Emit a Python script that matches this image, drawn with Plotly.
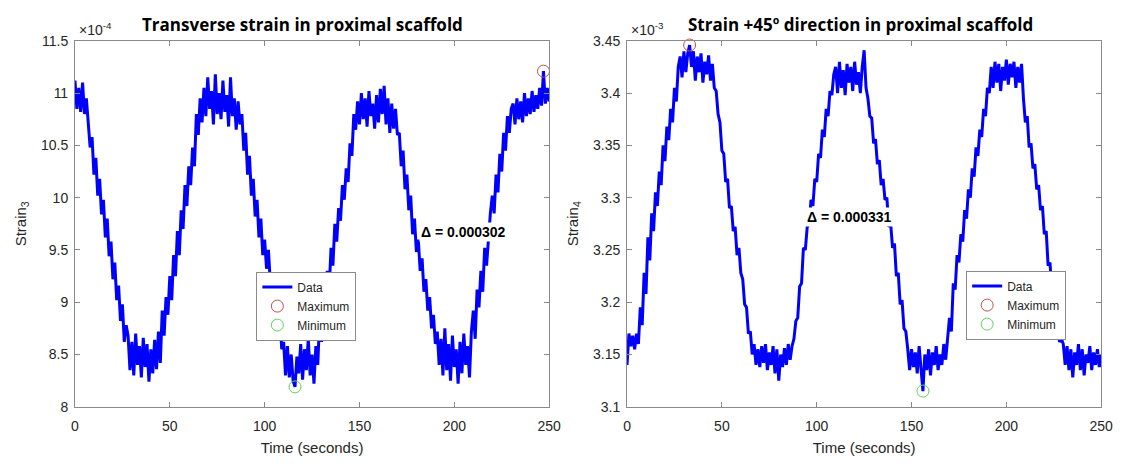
import plotly.graph_objects as go

# ---------------- data ----------------
time_s = list(range(0, 251))

# Strain_3 (values shown in units of 1e-4)
strain3_e4 = [
    11.12, 10.85, 11.05, 10.82, 11.10, 10.80, 10.95,
    10.72, 10.48, 10.58, 10.22, 10.38, 10.02, 10.18, 9.84, 9.98, 9.62, 9.80, 9.44, 9.58,
    9.22, 9.38, 9.02, 9.16, 8.82, 8.98, 8.62, 8.78,
    8.68, 8.35, 8.62, 8.30, 8.70, 8.40, 8.58, 8.28, 8.66, 8.38, 8.60, 8.24, 8.55, 8.32, 8.64,
    8.36, 8.72, 8.42,
    8.92, 8.68, 9.05, 8.88, 9.25, 9.02, 9.45, 9.25, 9.68, 9.45, 9.88, 9.70, 10.12, 9.92,
    10.30, 10.12, 10.48, 10.30, 10.80, 10.60,
    10.95, 10.72, 11.05, 10.78, 11.15, 10.85, 11.02, 10.70, 11.18, 10.80, 11.00, 10.75,
    11.12, 10.82, 10.98, 10.68, 11.15, 10.78, 10.95, 10.65, 10.92, 10.70,
    10.80, 10.45, 10.62, 10.22, 10.40, 10.02, 10.18, 9.82, 9.98, 9.62, 9.80, 9.45, 9.60,
    9.32, 9.50, 9.18, 9.28, 8.98, 9.10, 8.78, 8.90,
    8.55, 8.62, 8.30, 8.58, 8.28, 8.50, 8.25, 8.19, 8.48, 8.32, 8.60, 8.26, 8.55, 8.35,
    8.65, 8.30, 8.50, 8.22, 8.58, 8.40,
    8.85, 8.62, 9.05, 8.88, 9.30, 9.12, 9.52, 9.35, 9.75, 9.58, 9.90, 9.78, 10.12, 9.98,
    10.28, 10.15, 10.52, 10.40,
    10.80, 10.65, 10.92, 10.70, 11.00, 10.75, 10.95, 10.68, 11.02, 10.78, 10.90, 10.66,
    10.98, 10.72, 11.04, 10.80, 11.07, 10.70, 10.95, 10.62, 10.90, 10.66, 10.85, 10.60,
    10.62, 10.30, 10.45, 10.08, 10.22, 9.88, 10.02, 9.65, 9.80, 9.48, 9.60, 9.30, 9.42,
    9.10, 9.22, 8.92, 9.05, 8.75, 8.88, 8.60,
    8.72, 8.40, 8.65, 8.30, 8.75, 8.35, 8.60, 8.25, 8.68, 8.38, 8.55, 8.22, 8.62, 8.32,
    8.70, 8.40, 8.58, 8.28, 8.72,
    8.92, 8.65, 9.12, 8.95, 9.30, 9.10, 9.52, 9.35, 9.62, 9.85, 10.02, 9.85, 10.22, 10.05,
    10.42, 10.25, 10.62, 10.45, 10.78, 10.62, 10.85,
    10.90, 10.70, 10.95, 10.75, 10.92, 10.72, 11.00, 10.78, 10.95, 10.80, 11.02, 10.82,
    10.98, 10.85, 11.05, 10.88, 11.21, 10.90, 11.05, 10.92,
]

# Strain_4 (values shown in units of 1e-3)
strain4_e3 = [
    3.140, 3.170, 3.158, 3.168, 3.155, 3.170, 3.160,
    3.195, 3.178, 3.228, 3.208, 3.262, 3.240, 3.285, 3.268, 3.305, 3.292, 3.325, 3.312,
    3.350, 3.335, 3.368, 3.355, 3.385, 3.372, 3.405, 3.392, 3.425,
    3.435, 3.415, 3.440, 3.420, 3.438, 3.446, 3.425, 3.440, 3.412, 3.435, 3.420, 3.438,
    3.410, 3.430, 3.418, 3.436, 3.412, 3.428, 3.405,
    3.402, 3.380, 3.372, 3.345, 3.342, 3.315, 3.318, 3.290, 3.292, 3.268, 3.272, 3.245,
    3.252, 3.228, 3.222, 3.198, 3.195, 3.170, 3.172, 3.150,
    3.160, 3.140, 3.155, 3.138, 3.158, 3.142, 3.160, 3.135, 3.152, 3.140, 3.158, 3.132,
    3.155, 3.125, 3.150, 3.138, 3.156, 3.140, 3.160, 3.145, 3.158, 3.165,
    3.182, 3.185, 3.215, 3.218, 3.252, 3.250, 3.272, 3.275, 3.298, 3.292, 3.318, 3.315,
    3.342, 3.338, 3.365, 3.358, 3.385, 3.378, 3.402, 3.398, 3.418,
    3.425, 3.400, 3.430, 3.405, 3.422, 3.398, 3.428, 3.410, 3.425, 3.402, 3.430, 3.408,
    3.420, 3.400, 3.425, 3.441, 3.405,
    3.395, 3.378, 3.376, 3.352, 3.356, 3.332, 3.336, 3.312, 3.318, 3.298, 3.300, 3.272,
    3.275, 3.252, 3.256, 3.225, 3.228, 3.198, 3.202, 3.175, 3.172,
    3.155, 3.135, 3.155, 3.138, 3.152, 3.132, 3.158, 3.140, 3.115, 3.150, 3.135, 3.155,
    3.130, 3.152, 3.140, 3.158, 3.135, 3.150, 3.140, 3.160, 3.145, 3.165,
    3.185, 3.172, 3.218, 3.212, 3.245, 3.238, 3.265, 3.258, 3.288, 3.280, 3.308, 3.300,
    3.328, 3.320, 3.348, 3.340, 3.365, 3.358, 3.385, 3.378, 3.405, 3.400,
    3.425, 3.405, 3.430, 3.410, 3.428, 3.402, 3.425, 3.412, 3.432, 3.408, 3.428, 3.415,
    3.430, 3.405, 3.425, 3.410, 3.428,
    3.395, 3.372, 3.378, 3.348, 3.352, 3.328, 3.332, 3.308, 3.312, 3.288, 3.292, 3.265,
    3.268, 3.235, 3.238, 3.208, 3.212, 3.185, 3.188, 3.162, 3.165,
    3.160, 3.140, 3.158, 3.135, 3.155, 3.128, 3.152, 3.140, 3.160, 3.135, 3.155, 3.130,
    3.150, 3.142, 3.158, 3.135, 3.152, 3.140, 3.155, 3.138, 3.150,
]

x_ticks = [0, 50, 100, 150, 200, 250]
y3_ticks = [8, 8.5, 9, 9.5, 10, 10.5, 11, 11.5]
y3_labels = ["8", "8.5", "9", "9.5", "10", "10.5", "11", "11.5"]
y4_ticks = [3.1, 3.15, 3.2, 3.25, 3.3, 3.35, 3.4, 3.45]
y4_labels = ["3.1", "3.15", "3.2", "3.25", "3.3", "3.35", "3.4", "3.45"]

titles = ["Transverse strain in proximal scaffold", "Strain +45\u00ba direction in proximal scaffold"]
scale3 = 1e-4
scale4 = 1e-3

# ---------------- figure ----------------
W, H = 1128, 464
def px(x):
    return x / W
def py(y):
    return 1 - y / H

BLUE = "#0000ff"
RED = "#c8504f"
GREEN = "#5fd35f"
AX = "#8a8a8a"
TXT = "#262626"
ARIAL = "Liberation Sans, Arial, sans-serif"
TICKFONT = dict(family=ARIAL, size=14, color=TXT)
LABELFONT = dict(family=ARIAL, size=15, color=TXT)

fig = go.Figure()

def add_panel(xs, ys, xa, ya, legend):
    i_max = max(range(len(ys)), key=lambda i: ys[i])
    i_min = min(range(len(ys)), key=lambda i: ys[i])
    fig.add_trace(go.Scatter(x=xs, y=ys, mode="lines", name="Data",
                             line=dict(color=BLUE, width=3), xaxis=xa, yaxis=ya,
                             legend=legend))
    fig.add_trace(go.Scatter(x=[xs[i_max]], y=[ys[i_max]], mode="markers", name="Maximum",
                             marker=dict(symbol="circle-open", size=12, color=RED,
                                         line=dict(width=1, color=RED)),
                             xaxis=xa, yaxis=ya, legend=legend, cliponaxis=False))
    fig.add_trace(go.Scatter(x=[xs[i_min]], y=[ys[i_min]], mode="markers", name="Minimum",
                             marker=dict(symbol="circle-open", size=12, color=GREEN,
                                         line=dict(width=1, color=GREEN)),
                             xaxis=xa, yaxis=ya, legend=legend, cliponaxis=False))
    return ys[i_max] - ys[i_min]

d3 = add_panel(time_s, strain3_e4, "x", "y", "legend")
d4 = add_panel(time_s, strain4_e3, "x2", "y2", "legend2")

ydom = [py(413), py(34)]
axis_common = dict(showline=True, linecolor=AX, linewidth=1, mirror="ticks",
                   ticks="inside", ticklen=5, tickcolor=AX, showgrid=False,
                   zeroline=False, tickfont=TICKFONT)

leg_common = dict(xanchor="left", yanchor="top", bgcolor="white",
                  bordercolor=AX, borderwidth=1,
                  font=dict(family=ARIAL, size=12, color=TXT),
                  tracegroupgap=0, itemwidth=30)

fig.update_layout(
    width=W, height=H, margin=dict(l=0, r=0, t=0, b=0),
    paper_bgcolor="white", plot_bgcolor="white",
    xaxis=dict(domain=[px(72), px(553)], range=[0, 250], tickvals=x_ticks, anchor="y",
               ticklabelstandoff=6,
               title=dict(text="Time (seconds)", font=LABELFONT, standoff=9),
               **axis_common),
    yaxis=dict(domain=ydom, range=[8, 11.5], tickvals=y3_ticks, ticktext=y3_labels, anchor="x",
               ticklabelstandoff=3,
               title=dict(text="Strain<sub>3</sub>", font=LABELFONT, standoff=10),
               **axis_common),
    xaxis2=dict(domain=[px(632), px(1113)], range=[0, 250], tickvals=x_ticks, anchor="y2",
                ticklabelstandoff=6,
                title=dict(text="Time (seconds)", font=LABELFONT, standoff=9),
                **axis_common),
    yaxis2=dict(domain=ydom, range=[3.1, 3.45], tickvals=y4_ticks, ticktext=y4_labels, anchor="x2",
                ticklabelstandoff=3,
                title=dict(text="Strain<sub>4</sub>", font=LABELFONT, standoff=10),
                **axis_common),
    legend=dict(x=px(256), y=py(273), **leg_common),
    legend2=dict(x=px(976), y=py(272), **leg_common),
    showlegend=True,
)

title_font = dict(family="Open Sans, Noto Sans, sans-serif", size=17, color="black")
fig.add_annotation(text="<b>" + titles[0] + "</b>", xref="paper", yref="paper",
                   x=px(303), y=py(17), xanchor="center", yanchor="middle", showarrow=False, font=title_font)
fig.add_annotation(text="<b>" + titles[1] + "</b>", xref="paper", yref="paper",
                   x=px(869), y=py(17), xanchor="center", yanchor="middle", showarrow=False, font=title_font)

fig.add_annotation(text="\u00d710<sup>-4</sup>", xref="paper", yref="paper", x=px(74), y=py(22),
                   xanchor="left", yanchor="middle", showarrow=False, font=TICKFONT)
fig.add_annotation(text="\u00d710<sup>-3</sup>", xref="paper", yref="paper", x=px(634), y=py(22),
                   xanchor="left", yanchor="middle", showarrow=False, font=TICKFONT)

delta_font = dict(family=ARIAL, size=14, color="black")
fig.add_annotation(text="<b>\u0394 = %.6f</b>" % (d3 * scale3), xref="paper", yref="paper",
                   x=px(421), y=py(232), xanchor="left", yanchor="middle", showarrow=False,
                   font=delta_font, bgcolor="white", borderpad=1)
fig.add_annotation(text="<b>\u0394 = %.6f</b>" % (d4 * scale4), xref="paper", yref="paper",
                   x=px(813), y=py(216), xanchor="left", yanchor="middle", showarrow=False,
                   font=delta_font, bgcolor="white", borderpad=1)

fig.write_html("out.html", config={"displayModeBar": False},
               post_script="document.body.style.margin='0px';")
